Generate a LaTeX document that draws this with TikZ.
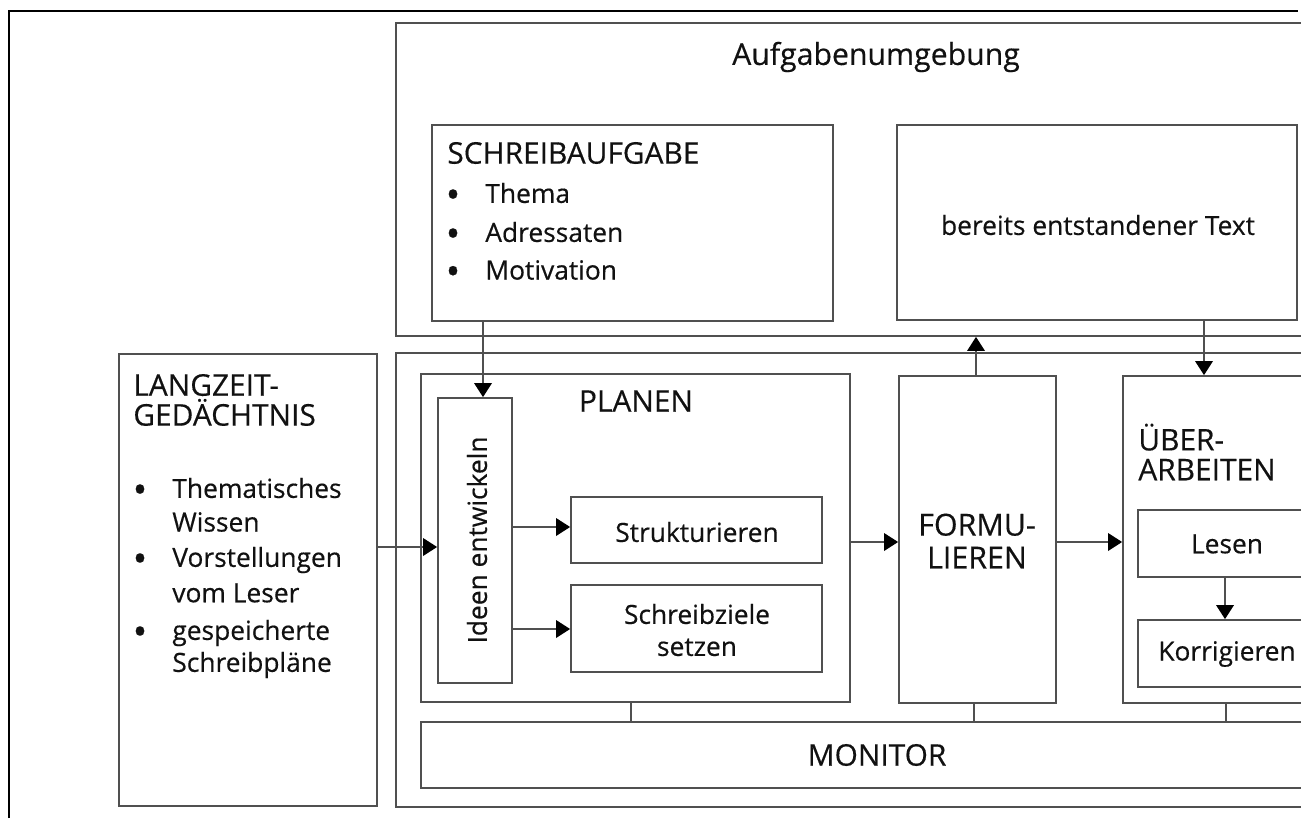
\documentclass[tikz,border=0pt]{standalone}
\usepackage{fontspec}
\setmainfont{Open Sans}[FakeBold=0.4]
\usetikzlibrary{arrows.meta,fit}
\definecolor{linegray}{HTML}{505050}
\definecolor{txtcol}{HTML}{111111}
\newcommand{\bul}{{\fontsize{22}{22}\selectfont\raisebox{-3pt}{•}}}
\begin{document}
\begin{tikzpicture}[x=0.02cm,y=-0.02cm,
  box/.style={draw=linegray, line width=1pt, inner sep=0pt, fill=white},
  txt/.style={inner sep=0pt, text=txtcol, font=\fontsize{15}{18}\selectfont},
  captxt/.style={inner sep=0pt, text=txtcol, font=\fontsize{17}{19}\selectfont},
  arr/.style={draw=linegray, line width=1pt, -{Triangle[length=8pt,width=10pt,color=black]}},
  conn/.style={draw=linegray, line width=1pt}]
\useasboundingbox (0,0) rectangle (1301,818);
\fill[white] (0,0) rectangle (1301,818);
\clip (0,0) rectangle (1301,818);
% outer frame
\draw[black, line width=1.6pt] (9,818) -- (9,11) -- (1298,11);
% Aufgabenumgebung
\node[box, fit={(396,23) (1345,336)}] (aufg) {};
\node[captxt, font=\fontsize{17.2}{19}\selectfont] (aufgT) at (876,57) {Aufgabenumgebung};
\node[box, fit={(432,125) (833,321)}] (sa) {};
\node[captxt, anchor=west] (saT) at (447,153) {SCHREIBAUFGABE};
\coordinate (xsb) at (453,0);
\node[txt, anchor=west] (sat1) at (485,193) {Thema};
\node[txt, anchor=base] (sab1) at (sat1.base -| xsb) {\bul};
\node[txt, anchor=west] (sat2) at (485,232) {Adressaten};
\node[txt, anchor=base] (sab2) at (sat2.base -| xsb) {\bul};
\node[txt, anchor=west] (sat3) at (485,270) {Motivation};
\node[txt, anchor=base] (sab3) at (sat3.base -| xsb) {\bul};
\node[box, fit={(897,125) (1297,320)}] (bt) {};
\node[txt] (btT) at (1098,225) {bereits entstandener Text};
% lower big box
\node[box, fit={(396,353) (1345,807)}] (proc) {};
% Langzeitgedaechtnis
\node[box, fit={(119,354) (377,806)}] (lzg) {};
\node[captxt, anchor=west, align=left, font=\fontsize{17}{17}\selectfont] (lzgT) at (133,400) {LANGZEIT-\\GEDÄCHTNIS};
\coordinate (xlb) at (140,0);
\node[txt, anchor=west] (lt1) at (172,488) {Thematisches};
\node[txt, anchor=base] (lb1) at (lt1.base -| xlb) {\bul};
\node[txt, anchor=west] (lt1b) at (172,522) {Wissen};
\node[txt, anchor=west] (lt2) at (172,560) {Vorstellungen};
\node[txt, anchor=base] (lb2) at (lt2.base -| xlb) {\bul};
\node[txt, anchor=west] (lt2b) at (172,593) {vom Leser};
\node[txt, anchor=west] (lt3) at (172,633) {gespeicherte};
\node[txt, anchor=base] (lb3) at (lt3.base -| xlb) {\bul};
\node[txt, anchor=west] (lt3b) at (172,665) {Schreibpläne};
% Planen
\node[box, fit={(421,374) (850,702)}] (plan) {};
\node[captxt] (planT) at (636,401) {PLANEN};
\node[box, fit={(438,398) (512,683)}] (ideen) {};
\node[txt, rotate=90] (ideenT) at (477,540) {Ideen entwickeln};
\node[box, fit={(571,497) (822,563)}] (struk) {};
\node[txt] (strukT) at (697,532) {Strukturieren};
\node[box, fit={(571,585) (822,672)}] (ziele) {};
\node[txt, align=center, font=\fontsize{15}{18.2}\selectfont] (zieleT) at (697,630) {Schreibziele\\setzen};
% Formulieren
\node[box, fit={(899,376) (1056,703)}] (form) {};
\node[captxt, align=center, font=\fontsize{17.3}{18.7}\selectfont] (formT) at (977,541) {FORMU-\\LIEREN};
% Ueberarbeiten
\node[box, fit={(1123,376) (1335,703)}] (ueber) {};
\node[captxt, anchor=west, align=left, font=\fontsize{17}{17}\selectfont] (ueberT) at (1138,452) {ÜBER-\\ARBEITEN};
\node[box, fit={(1138,510) (1318,577)}] (lesen) {};
\node[txt] (lesenT) at (1227,544) {Lesen};
\node[box, fit={(1138,620) (1318,687)}] (korr) {};
\node[txt] (korrT) at (1227,654) {Korrigieren};
% Monitor
\node[box, fit={(421,722) (1335,788)}] (mon) {};
\node[captxt] (monT) at (877,755) {MONITOR};
% connectors
\coordinate (xa) at (483,0);
\draw[arr] (xa |- sa.south) -- (xa |- ideen.north);
\coordinate (ya) at (0,547);
\draw[arr] (lzg.east |- ya) -- (ideen.west |- ya);
\coordinate (yb) at (0,527);
\draw[arr] (ideen.east |- yb) -- (struk.west |- yb);
\coordinate (yc) at (0,629);
\draw[arr] (ideen.east |- yc) -- (ziele.west |- yc);
\coordinate (yd) at (0,542);
\draw[arr] (plan.east |- yd) -- (form.west |- yd);
\draw[arr] (form.east |- yd) -- (ueber.west |- yd);
\coordinate (xe) at (976,0);
\draw[arr] (xe |- form.north) -- (xe |- aufg.south);
\coordinate (xf) at (1204,0);
\draw[arr] (xf |- bt.south) -- (xf |- ueber.north);
\coordinate (xg) at (1225,0);
\draw[arr] (xg |- lesen.south) -- (xg |- korr.north);
\coordinate (xh) at (631,0);
\draw[conn] (xh |- plan.south) -- (xh |- mon.north);
\coordinate (xi) at (974,0);
\draw[conn] (xi |- form.south) -- (xi |- mon.north);
\coordinate (xj) at (1226,0);
\draw[conn] (xj |- ueber.south) -- (xj |- mon.north);
\end{tikzpicture}
\end{document}
